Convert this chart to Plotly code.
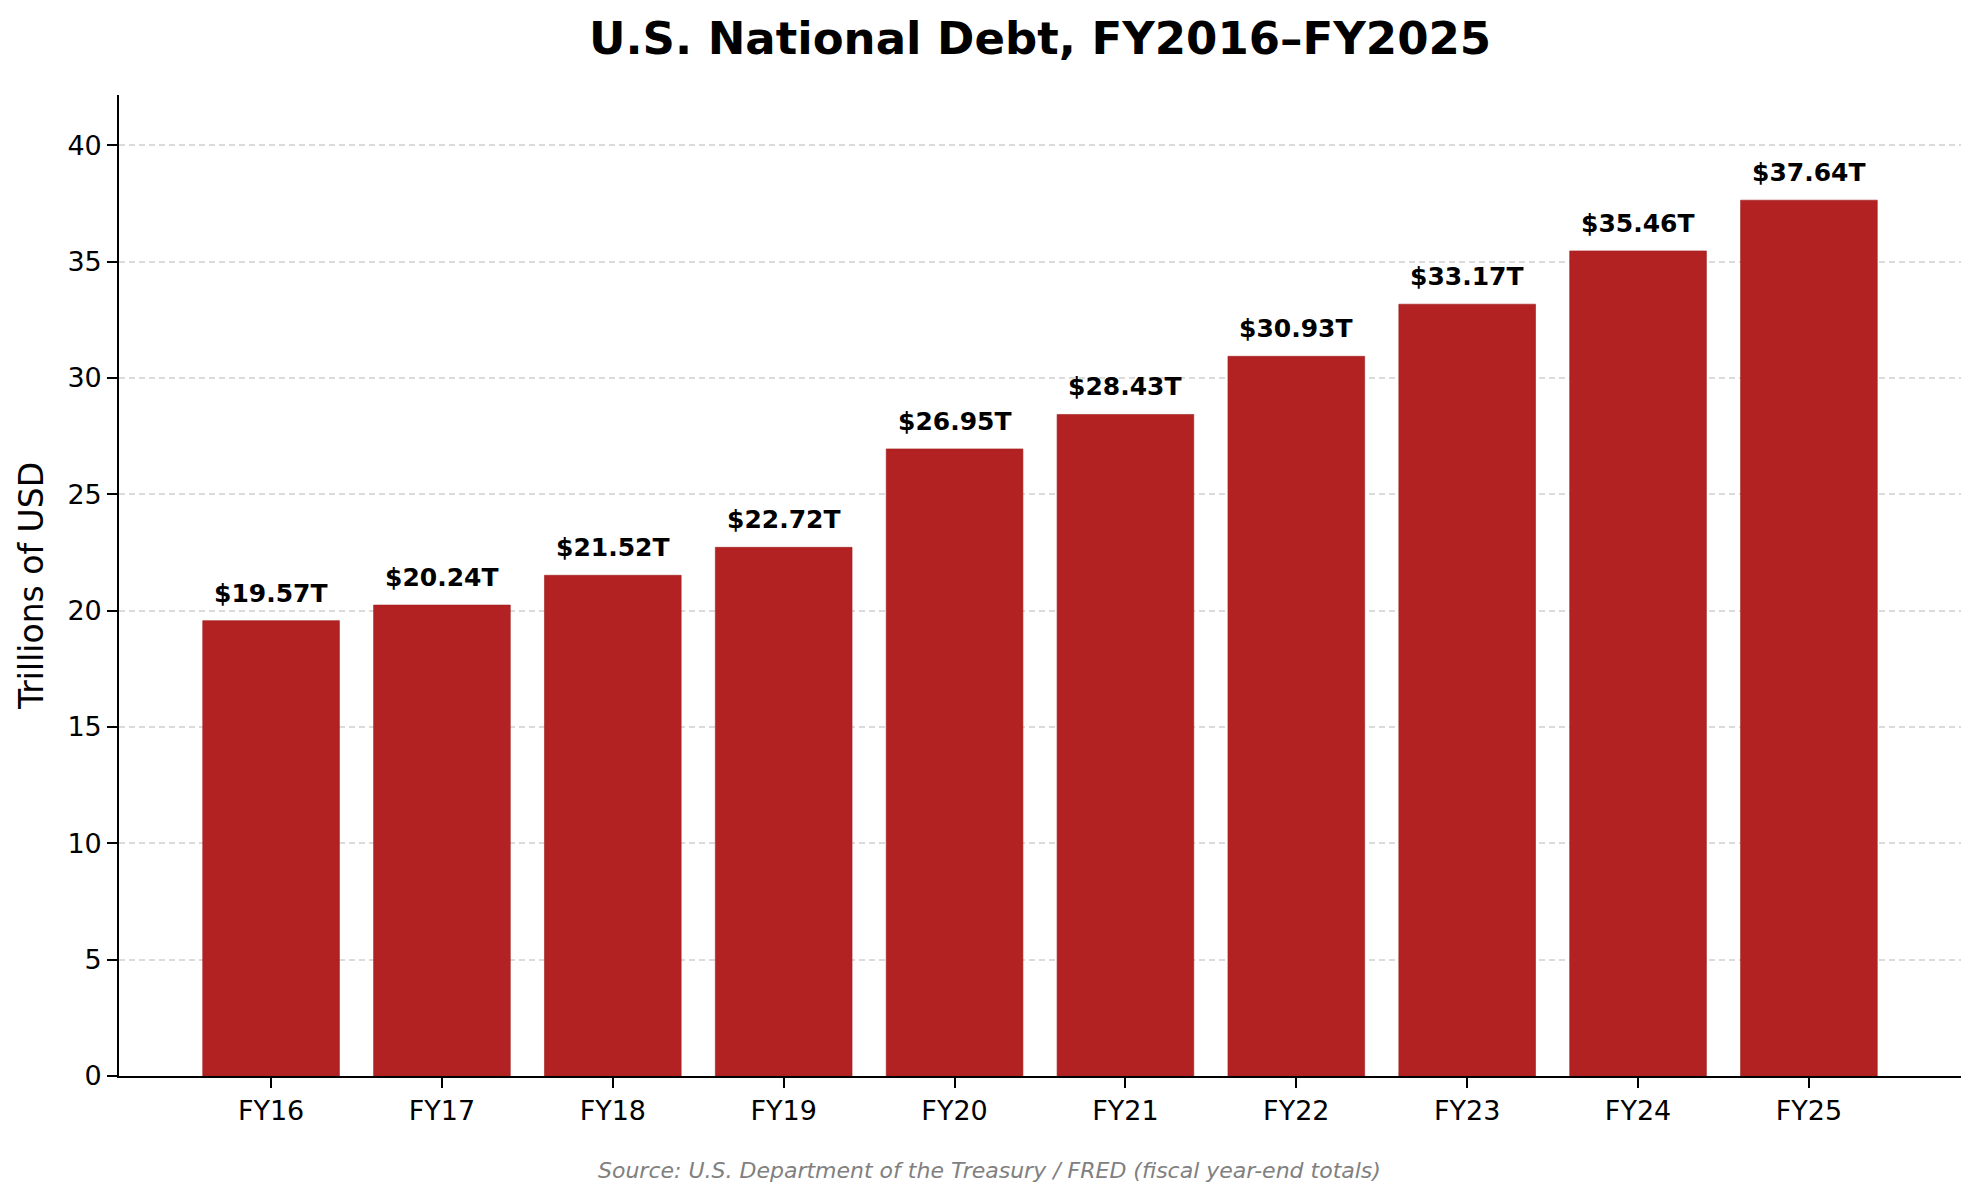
import plotly.graph_objects as go

# Data (trillions of USD, fiscal year-end)
years = ['FY16', 'FY17', 'FY18', 'FY19', 'FY20', 'FY21', 'FY22', 'FY23', 'FY24', 'FY25']
debt = [19.57, 20.24, 21.52, 22.72, 26.95, 28.43, 30.93, 33.17, 35.46, 37.64]
bar_labels = ['$' + format(v, '.2f') + 'T' for v in debt]

ytick_vals = [0, 5, 10, 15, 20, 25, 30, 35, 40]

# Figure options (page body has an 8px margin, so the figure is a bit smaller)
pngwidth = 1971
pngheight = 1193
barColor = '#b22222'
fontName = 'DejaVu Sans'

fig = go.Figure(data=[go.Bar(
    x=list(range(len(years))),
    y=debt,
    width=0.8,
    marker=dict(color=barColor, line=dict(color='#a01e1e', width=0.6)),
    hoverinfo='skip'
)])

# value labels above each bar
for i, v in enumerate(debt):
    fig.add_annotation(x=i, y=v, text='<b>' + bar_labels[i] + '</b>',
                       showarrow=False, yanchor='bottom', yshift=11,
                       font=dict(family=fontName, size=25, color='black'))

# source note, centred on the whole figure
fig.add_annotation(x=0.4726, xref='paper', yref='paper', y=-0.096,
                   yanchor='middle', showarrow=False,
                   text='<i>Source: U.S. Department of the Treasury / FRED (fiscal year-end totals)</i>',
                   font=dict(family=fontName, size=22, color='#808080'))

fig.update_layout(
    width=pngwidth,
    height=pngheight,
    autosize=False,
    plot_bgcolor='white',
    paper_bgcolor='white',
    margin=dict(l=111, r=18, t=87, b=125),
    showlegend=False,
    bargap=0.2,
    title=dict(text='<b>U.S. National Debt, FY2016–FY2025</b>',
               xref='paper', x=0.5, xanchor='center',
               y=1 - 30 / pngheight, yanchor='middle',
               font=dict(family=fontName, size=45, color='black')),
    font=dict(family=fontName, color='black'),
)

fig.update_xaxes(
    range=[-0.89, 9.89],
    tickmode='array',
    tickvals=list(range(len(years))),
    ticktext=years,
    ticks='outside', ticklen=10, tickwidth=1.6, tickcolor='black',
    tickfont=dict(family=fontName, size=27, color='black'),
    showline=True, linecolor='black', linewidth=1.6,
    showgrid=False, zeroline=False,
)

fig.update_yaxes(
    range=[0, 42.16],
    tickmode='array',
    tickvals=ytick_vals,
    ticks='outside', ticklen=10, tickwidth=1.6, tickcolor='black',
    tickfont=dict(family=fontName, size=27, color='black'),
    showline=True, linecolor='black', linewidth=1.6,
    showgrid=True, gridcolor='rgba(176,176,176,0.45)', gridwidth=1.6,
    griddash='6px,4px',
    zeroline=False,
    layer='above traces',
    title=dict(text='Trillions of USD', standoff=14,
               font=dict(family=fontName, size=33, color='black')),
)

fig.write_html("out.html")
